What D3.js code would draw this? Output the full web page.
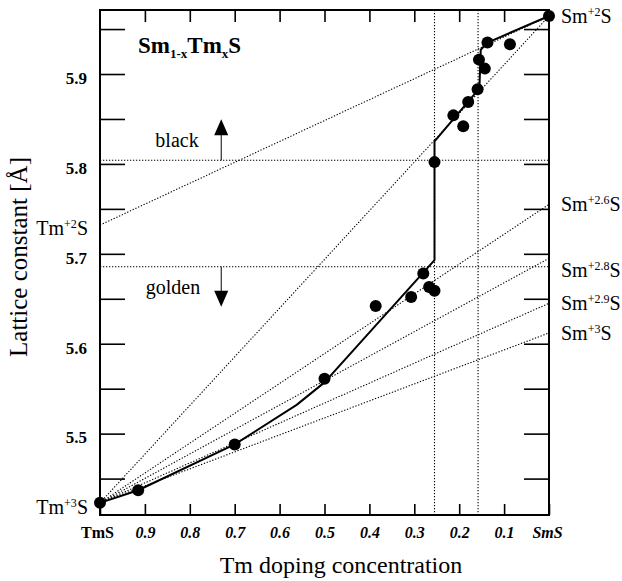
<!DOCTYPE html>
<html>
<head>
<meta charset="utf-8">
<script src="https://cdn.jsdelivr.net/npm/d3@7/dist/d3.min.js"></script>
<style>
  html, body { margin: 0; padding: 0; background: #fff; }
  svg { display: block; }
</style>
</head>
<body>
<svg id="chart" width="622" height="581"></svg>
<script>
// Measured lattice constants of Sm(1-x)Tm(x)S versus Tm content x
const compositions = [1.0, 0.915, 0.7, 0.5, 0.386, 0.307, 0.28, 0.267, 0.255, 0.255,
                      0.213, 0.191, 0.18, 0.159, 0.156, 0.143, 0.137, 0.087, 0.0];
const latticeA = [5.423, 5.437, 5.488, 5.561, 5.642, 5.652, 5.678, 5.663, 5.659, 5.802,
                  5.854, 5.842, 5.869, 5.883, 5.916, 5.906, 5.935, 5.933, 5.9645];

// Guide-to-the-eye solid curve
const guideX = [1.0, 0.915, 0.7, 0.562, 0.5, 0.255, 0.255, 0.155, 0.152, 0.137, 0.0];
const guideY = [5.423, 5.437, 5.488, 5.532, 5.557, 5.693, 5.825, 5.884, 5.927, 5.935, 5.9645];

// Vegard lines from Tm+3S to SmS in different Sm valence states
const tm3S = 5.423;
const tm2S = 5.732;
const sm2S = 5.9645;
const valenceLabels = ["+2.6", "+2.8", "+2.9", "+3"];
const valenceEnds = [5.755, 5.695, 5.645, 5.612];
const valenceLabelShift = [0, 12, 0, 0];

// Colour boundaries and transition compositions
const blackLimit = 5.804;
const goldenLimit = 5.6857;
const transitionX = [0.255, 0.158];

// Axis ticks
const xTicks = [1.0, 0.9, 0.8, 0.7, 0.6, 0.5, 0.4, 0.3, 0.2, 0.1, 0.0];
const xTickLabels = ["TmS", "0.9", "0.8", "0.7", "0.6", "0.5", "0.4", "0.3", "0.2", "0.1", "SmS"];
const yTicks = [5.45, 5.5, 5.55, 5.6, 5.65, 5.7, 5.75, 5.8, 5.85, 5.9, 5.95];
const yTickLabels = ["", "5.5", "", "5.6", "", "5.7", "", "5.8", "", "5.9", ""];

const serif = "'Liberation Serif', Tinos, 'Times New Roman', 'DejaVu Serif', serif";

const svg = d3.select("#chart").attr("font-family", serif);
const plotLeft = 100, plotRight = 549, plotTop = 10, plotBottom = 515;

const x = d3.scaleLinear().domain([1, 0]).range([plotLeft, plotRight]);
const y = d3.scaleLinear().domain([5.4095, 5.9712]).range([plotBottom, plotTop]);

// Axes with inward ticks on all four sides
const gBottom = svg.append("g").attr("transform", `translate(0,${plotBottom})`)
  .call(d3.axisBottom(x).tickValues(xTicks).tickSize(-11).tickPadding(12)
    .tickFormat((d, i) => xTickLabels[i]));
gBottom.selectAll("text")
  .attr("font-size", 16).attr("font-weight", "bold")
  .attr("font-style", (d, i) => i === 0 ? "normal" : "italic")
  .attr("dx", (d, i) => i === 0 ? -3 : (i === xTicks.length - 1 ? -2 : 0));

svg.append("g").attr("transform", `translate(0,${plotTop})`)
  .call(d3.axisTop(x).tickValues(xTicks.slice(1, -1)).tickSize(-12).tickFormat(""));

const gLeft = svg.append("g").attr("transform", `translate(${plotLeft},0)`)
  .call(d3.axisLeft(y).tickValues(yTicks).tickSize(-25).tickPadding(13)
    .tickFormat((d, i) => yTickLabels[i]));
gLeft.selectAll("text").attr("font-size", 17).attr("font-weight", "bold").attr("dy", "0.55em");

svg.append("g").attr("transform", `translate(${plotRight},0)`)
  .call(d3.axisRight(y).tickValues(yTicks).tickSize(-25).tickFormat(""));

svg.selectAll(".domain").remove();
svg.selectAll("g").attr("font-family", serif);
svg.selectAll(".tick line").attr("stroke", "#000").attr("stroke-width", 1.6);

// Plot frame
svg.append("rect")
  .attr("x", plotLeft).attr("y", plotTop)
  .attr("width", plotRight - plotLeft).attr("height", plotBottom - plotTop)
  .attr("fill", "none").attr("stroke", "#000").attr("stroke-width", 2);

const dotted = { stroke: "#000", "stroke-width": 1.1, "stroke-dasharray": "1.3,1.7", fill: "none" };
function applyAttrs(sel, attrs) { Object.entries(attrs).forEach(([k, v]) => sel.attr(k, v)); return sel; }

// Horizontal colour boundaries
[blackLimit, goldenLimit].forEach(v => {
  applyAttrs(svg.append("line")
    .attr("x1", plotLeft).attr("x2", plotRight).attr("y1", y(v)).attr("y2", y(v)), dotted);
});

// Vertical transition lines
transitionX.forEach(v => {
  applyAttrs(svg.append("line")
    .attr("x1", x(v)).attr("x2", x(v)).attr("y1", plotTop).attr("y2", plotBottom), dotted);
});

// Vegard lines
const lines = [
  [[1, tm3S], [0, sm2S]],
  [[1, tm2S], [0, sm2S]],
  ...valenceEnds.map(v => [[1, tm3S], [0, v]])
];
const lineGen = d3.line().x(d => x(d[0])).y(d => y(d[1]));
lines.forEach(l => applyAttrs(svg.append("path").attr("d", lineGen(l)), dotted));

// Solid guide curve
svg.append("path")
  .attr("d", lineGen(guideX.map((v, i) => [v, guideY[i]])))
  .attr("fill", "none").attr("stroke", "#000").attr("stroke-width", 2)
  .attr("stroke-linejoin", "round");

// Data points
svg.append("g").selectAll("circle")
  .data(compositions.map((v, i) => [v, latticeA[i]]))
  .join("circle")
  .attr("cx", d => x(d[0])).attr("cy", d => y(d[1])).attr("r", 6)
  .attr("fill", "#000");

// Labels with superscripts
function supLabel(px, py, base, sup, tail, anchor, size) {
  const t = svg.append("text").attr("x", px).attr("y", py)
    .attr("font-size", size).attr("text-anchor", anchor);
  t.append("tspan").text(base);
  t.append("tspan").attr("dy", -7).attr("font-size", size * 0.6).text(sup);
  t.append("tspan").attr("dy", 7).text(tail);
  return t;
}
supLabel(88, y(tm2S) + 10, "Tm", "+2", "S", "end", 20);
supLabel(88, y(tm3S) + 11, "Tm", "+3", "S", "end", 20);
supLabel(561, y(sm2S) + 7, "Sm", "+2", "S", "start", 20);
valenceEnds.forEach((v, i) => {
  supLabel(561, y(v) + 7 + valenceLabelShift[i], "Sm", valenceLabels[i], "S", "start", 20);
});

// Compound title
const title = svg.append("text").attr("x", 138).attr("y", 53)
  .attr("font-size", 23).attr("font-weight", "bold");
title.append("tspan").text("Sm");
title.append("tspan").attr("dy", 5).attr("font-size", 13).text("1-x");
title.append("tspan").attr("dy", -5).text("Tm");
title.append("tspan").attr("dy", 5).attr("font-size", 13).text("x");
title.append("tspan").attr("dy", -5).text("S");

// Colour annotations with arrows
const arrowX = x(0.73);
svg.append("text").attr("x", 177).attr("y", y(blackLimit) - 13)
  .attr("font-size", 20).attr("text-anchor", "middle").text("black");
svg.append("line").attr("x1", arrowX).attr("x2", arrowX)
  .attr("y1", y(blackLimit)).attr("y2", y(blackLimit) - 26)
  .attr("stroke", "#000").attr("stroke-width", 1);
svg.append("path")
  .attr("d", `M${arrowX},${y(blackLimit) - 41} L${arrowX - 7},${y(blackLimit) - 25} L${arrowX + 7},${y(blackLimit) - 25} Z`)
  .attr("fill", "#000");

svg.append("text").attr("x", 173).attr("y", y(goldenLimit) + 27)
  .attr("font-size", 20).attr("text-anchor", "middle").text("golden");
svg.append("line").attr("x1", arrowX).attr("x2", arrowX)
  .attr("y1", y(goldenLimit)).attr("y2", y(goldenLimit) + 25)
  .attr("stroke", "#000").attr("stroke-width", 1);
svg.append("path")
  .attr("d", `M${arrowX},${y(goldenLimit) + 40} L${arrowX - 7},${y(goldenLimit) + 24} L${arrowX + 7},${y(goldenLimit) + 24} Z`)
  .attr("fill", "#000");

// Axis titles
svg.append("text").attr("x", 341).attr("y", 573)
  .attr("font-size", 24).attr("text-anchor", "middle").text("Tm doping concentration");
svg.append("text")
  .attr("transform", "translate(27,257) rotate(-90)")
  .attr("font-size", 25).attr("text-anchor", "middle").text("Lattice constant [Å]");
</script>
</body>
</html>
